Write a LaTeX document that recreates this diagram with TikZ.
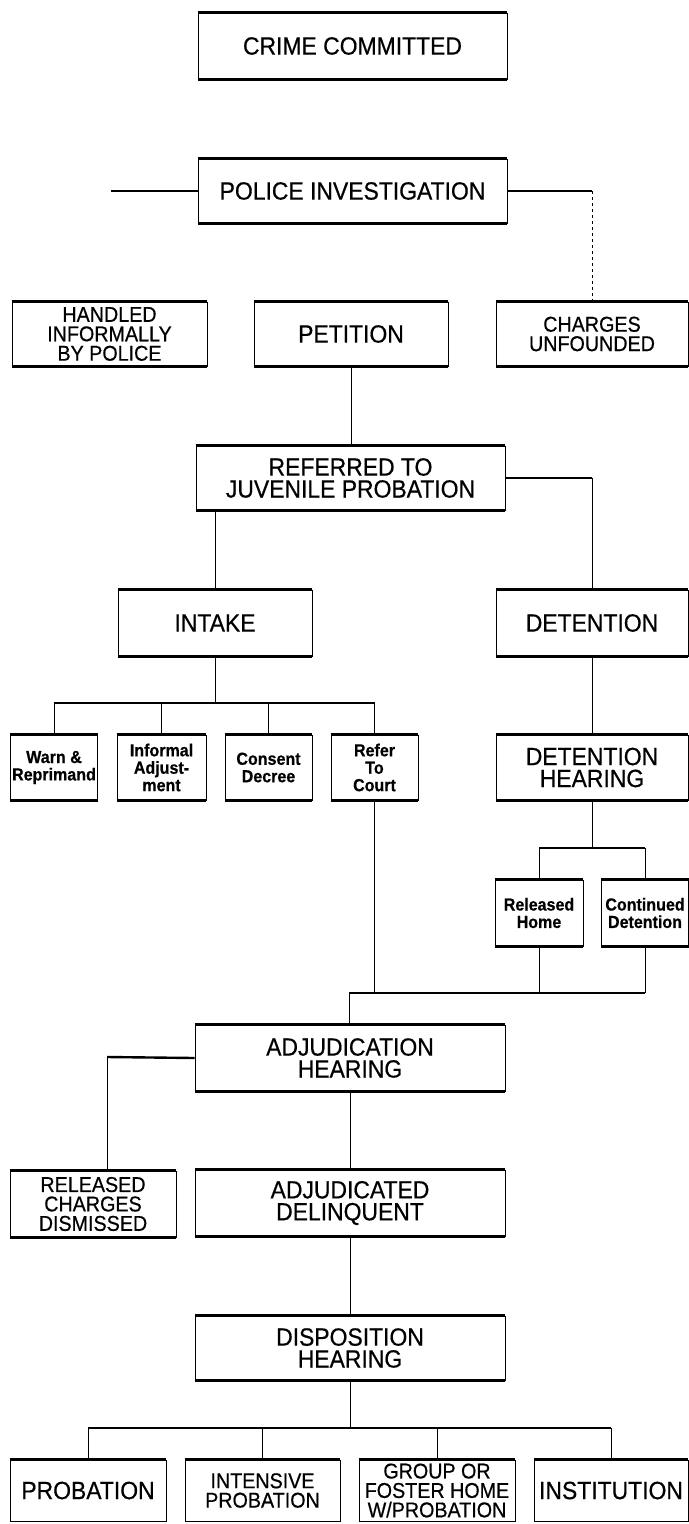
\documentclass[tikz,border=0pt]{standalone}
\usepackage{fontspec}
\setmainfont{Liberation Sans}[FakeStretch=0.92, FakeBold=0.5]
\newcommand\fbig{\fontsize{25}{22}\selectfont}
\newcommand\fmid{\fontsize{21.5}{19.5}\selectfont}
\newcommand\fsmall{\fontsize{17.5}{17.5}\selectfont\bfseries}
\begin{document}
\begin{tikzpicture}[x=1bp,y=-1bp,
  box/.style={draw, line width=0.9pt, inner sep=0pt, align=center, font=\fbig},
  midbox/.style={box, font=\fmid},
  smallbox/.style={box, font=\fsmall},
  hline/.style={line width=2.4pt},
  vline/.style={line width=1pt},
  heavyedge/.style={line width=2.4pt}]
\useasboundingbox (0,0) rectangle (689,1524);
\fill[white] (0,0) rectangle (689,1524);

% top part
\node[box, minimum width=309bp, minimum height=66bp] (crime) at (352.5,46) {CRIME COMMITTED};
\node[box, minimum width=309bp, minimum height=64bp] (police) at (352.5,191) {POLICE INVESTIGATION};
\node[midbox, minimum width=195bp, minimum height=64bp] (handled) at (109.5,334) {HANDLED\\INFORMALLY\\BY POLICE};
\node[box, minimum width=194bp, minimum height=64bp] (petition) at (351,334) {PETITION};
\node[midbox, minimum width=192bp, minimum height=64bp] (charges) at (592,334) {CHARGES\\UNFOUNDED};
\node[box, minimum width=309bp, minimum height=64bp] (referred) at (350.5,478) {REFERRED TO\\JUVENILE PROBATION};
\node[box, minimum width=194bp, minimum height=66bp] (intake) at (215,623) {INTAKE};
\node[box, minimum width=192bp, minimum height=66bp] (detention) at (592,623) {DETENTION};

% intake outcomes
\node[smallbox, minimum width=87bp, minimum height=65bp] (warn) at (54,767.5) {Warn \&\\Reprimand};
\node[smallbox, minimum width=89bp, minimum height=65bp] (informal) at (161.5,767.5) {Informal\\Adjust-\\ment};
\node[smallbox, minimum width=87bp, minimum height=65bp] (consent) at (268.5,767.5) {Consent\\Decree};
\node[smallbox, minimum width=87bp, minimum height=65bp] (refer) at (374.5,767.5) {Refer\\To\\Court};
\node[box, minimum width=192bp, minimum height=65bp] (dethear) at (592,767.5) {DETENTION\\HEARING};
\node[smallbox, minimum width=88bp, minimum height=66bp] (relhome) at (539,913) {Released\\Home};
\node[smallbox, minimum width=87bp, minimum height=66bp] (contdet) at (645,913) {Continued\\Detention};

% adjudication
\node[box, minimum width=310bp, minimum height=66bp] (adjh) at (350,1058) {ADJUDICATION\\HEARING};
\node[midbox, minimum width=166bp, minimum height=66bp] (reldis) at (93,1204) {RELEASED\\CHARGES\\DISMISSED};
\node[box, minimum width=310bp, minimum height=66bp] (adjdel) at (350,1203) {ADJUDICATED\\DELINQUENT};
\node[box, minimum width=310bp, minimum height=64bp] (dispo) at (350,1348) {DISPOSITION\\HEARING};

% dispositions
\node[box, minimum width=156bp, minimum height=61bp] (prob) at (88,1490.5) {PROBATION};
\node[midbox, minimum width=155bp, minimum height=61bp] (intens) at (262.5,1490.5) {INTENSIVE\\PROBATION};
\node[midbox, minimum width=156bp, minimum height=61bp] (group) at (437,1490.5) {GROUP OR\\FOSTER HOME\\W/PROBATION};
\node[box, minimum width=154bp, minimum height=61bp] (inst) at (611,1490.5) {INSTITUTION};

% heavy top and bottom edges of boxes
\foreach \n in {crime,police,handled,petition,charges,referred,intake,detention,warn,informal,consent,refer,dethear,relhome,contdet,adjh,reldis,adjdel,dispo}{
  \draw[heavyedge] (\n.north west) -- (\n.north east);
  \draw[heavyedge] (\n.south west) -- (\n.south east);
}
\foreach \n in {prob,intens,group,inst}{
  \draw[heavyedge] (\n.north west) -- (\n.north east);
}

% connectors
\coordinate (pl) at (111,191);
\coordinate (pr) at (592,191);
\draw[hline] (police.west) -- (pl);
\draw[hline] (police.east) -- (pr);
\draw[vline, dashed] (pr) -- (charges.north);

\draw[vline] (petition.south) -- (petition.south |- referred.north);
\draw[hline] (referred.east) -- (referred.east -| detention.north);
\draw[vline] (referred.east -| detention.north) -- (detention.north);
\draw[vline] (intake.north |- referred.south) -- (intake.north);

\coordinate (ibus) at (215,703);
\draw[vline] (intake.south) -- (ibus);
\draw[hline] (warn.north |- ibus) -- (refer.north |- ibus);
\foreach \n in {warn,informal,consent,refer}{
  \draw[vline] (\n.north |- ibus) -- (\n.north);
}

\draw[vline] (detention.south) -- (dethear.north);
\coordinate (dbus) at (592,848);
\draw[vline] (dethear.south) -- (dbus);
\draw[hline] (relhome.north |- dbus) -- (contdet.north |- dbus);
\draw[vline] (relhome.north |- dbus) -- (relhome.north);
\draw[vline] (contdet.north |- dbus) -- (contdet.north);

\coordinate (abus) at (349,993);
\draw[hline] (abus) -- (contdet.south |- abus);
\draw[vline] (refer.south) -- (refer.south |- abus);
\draw[vline] (relhome.south) -- (relhome.south |- abus);
\draw[vline] (contdet.south) -- (contdet.south |- abus);
\draw[vline] (abus) -- (abus |- adjh.north);

\coordinate (rd) at (107,1057);
\draw[hline] (adjh.west) -- (rd);
\draw[vline] (rd) -- (rd |- reldis.north);

\draw[vline] (adjh.south) -- (adjdel.north);
\draw[vline] (adjdel.south) -- (dispo.north);

\coordinate (pbus) at (350,1428);
\draw[vline] (dispo.south) -- (pbus);
\draw[hline] (prob.north |- pbus) -- (inst.north |- pbus);
\foreach \n in {prob,intens,group,inst}{
  \draw[vline] (\n.north |- pbus) -- (\n.north);
}
\end{tikzpicture}
\end{document}
